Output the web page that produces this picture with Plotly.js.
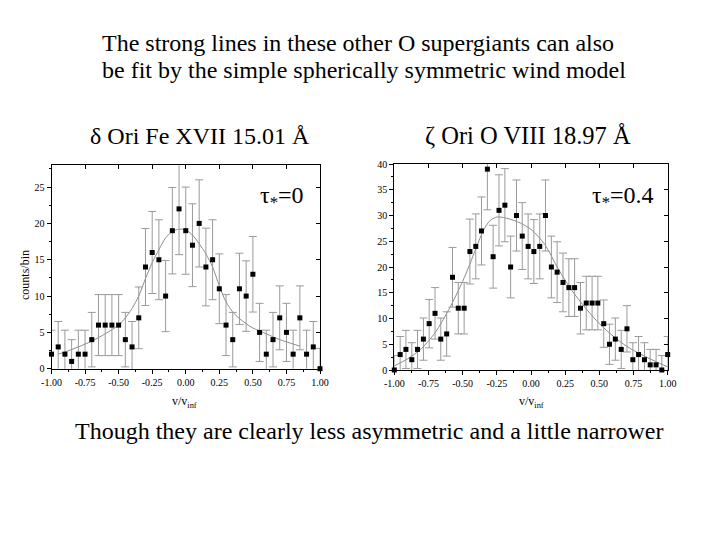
<!DOCTYPE html>
<html><head><meta charset="utf-8">
<script src="https://cdn.plot.ly/plotly-3.0.1.min.js"></script>
<style>body{margin:0;background:#fff}#chart{width:720px;height:540px}</style>
</head><body><div id="chart"></div>
<script>
// ---- data ----
const leftX = [-1.00,-0.95,-0.90,-0.85,-0.80,-0.75,-0.70,-0.65,-0.60,-0.55,-0.50,-0.45,-0.40,-0.35,-0.30,-0.25,-0.20,-0.15,-0.10,-0.05,0.00,0.05,0.10,0.15,0.20,0.25,0.30,0.35,0.40,0.45,0.50,0.55,0.60,0.65,0.70,0.75,0.80,0.85,0.90,0.95,1.00];
const leftCounts = [2,3,2,1,2,2,4,6,6,6,6,4,3,7,14,16,15,10,19,22,19,17,20,14,15,11,6,4,11,10,13,5,2,4,7,5,2,7,2,3,0];
const leftErr = [3.3,3.5,3.3,3.0,3.3,3.3,3.75,4.2,4.2,4.2,4.2,3.75,3.5,4.25,5.3,5.65,5.5,4.9,5.95,6.3,6.0,5.7,6.0,5.35,5.5,4.8,4.2,3.75,4.9,4.85,5.2,4.0,3.3,3.75,4.4,4.0,3.3,4.4,3.3,3.5,2.8];
const leftModelX = [-0.95,-0.9,-0.8,-0.7,-0.6,-0.5,-0.45,-0.4,-0.35,-0.3,-0.25,-0.2,-0.15,-0.1,-0.05,0,0.05,0.1,0.15,0.2,0.25,0.3,0.35,0.4,0.45,0.5,0.6,0.7,0.8,0.85];
const leftModelY = [2.0,2.3,3.0,3.8,4.8,6.0,7.0,8.3,10.0,12.4,14.6,16.4,18.0,18.9,19.2,19.1,18.4,17.2,15.8,14.0,11.4,9.2,7.8,6.9,6.2,5.6,4.8,4.0,3.4,3.1];

const rightX = [-1.000,-0.957,-0.915,-0.872,-0.830,-0.787,-0.745,-0.702,-0.660,-0.617,-0.574,-0.532,-0.489,-0.447,-0.404,-0.362,-0.319,-0.277,-0.234,-0.191,-0.149,-0.106,-0.064,-0.021,0.021,0.064,0.106,0.149,0.191,0.234,0.277,0.319,0.362,0.404,0.447,0.489,0.532,0.574,0.617,0.660,0.702,0.745,0.787,0.830,0.872,0.915,0.957,1.000];
const rightCounts = [0,3,4,2,4,6,9,11,6,7,18,12,12,23,24,27,39,22,31,32,20,30,26,24,23,24,30,20,19,17,16,16,12,13,13,13,9,5,6,4,8,2,3,2,1,1,0,3];
const rightErr = [2.8,3.5,3.7,3.3,3.7,4.1,4.7,5.0,4.1,4.3,5.8,5.0,5.0,6.3,6.3,6.6,7.9,6.1,6.9,7.1,6.0,6.9,6.5,6.3,6.2,6.3,6.9,6.0,5.9,5.7,5.6,5.6,5.0,5.2,5.2,5.2,4.6,3.9,4.1,3.7,4.5,3.3,3.5,3.3,3.0,3.0,2.8,3.5];
const rightModelX = [-1,-0.9,-0.8,-0.7,-0.6,-0.5,-0.45,-0.4,-0.35,-0.3,-0.25,-0.2,-0.1,0,0.1,0.2,0.3,0.4,0.5,0.6,0.7,0.8,0.9,1];
const rightModelY = [0.8,2.2,4.2,7.3,11.8,17.2,20.4,23.8,27.0,29.0,29.7,29.6,28.8,27.3,24.4,19.6,15.4,12.0,9.0,6.6,4.6,3.1,1.8,0.6];

const xTickVals = [-1,-0.75,-0.5,-0.25,0,0.25,0.5,0.75,1];
const xTickText = ['-1.00','-0.75','-0.50','-0.25','0.00','0.25','0.50','0.75','1.00'];
const leftYTicks = [0,5,10,15,20,25];
const rightYTicks = [0,5,10,15,20,25,30,35,40];

const titleLines = ['The strong lines in these other O supergiants can also','be fit by the simple spherically symmetric wind model'];
const leftTitle = 'δ Ori Fe XVII 15.01 Å';
const rightTitle = 'ζ Ori O VIII 18.97 Å';
const leftTau = 'τ<sub>*</sub>=0';
const rightTau = 'τ<sub>*</sub>=0.4';
const footer = 'Though they are clearly less asymmetric and a little narrower';

// ---- drawing ----
const SERIF = 'Liberation Serif, Times New Roman, serif';
const errStyle = arr => ({type:'data', array:arr, visible:true, color:'#9a9a9a', thickness:1, width:4});
const markerStyle = {symbol:'square', size:5, color:'#000'};
const modelLine = {color:'#8c8c8c', width:1, shape:'spline', smoothing:0.8};

const traces = [
  {x:leftModelX, y:leftModelY, mode:'lines', line:modelLine, xaxis:'x', yaxis:'y', hoverinfo:'skip'},
  {x:leftX, y:leftCounts, mode:'markers', marker:markerStyle, error_y:errStyle(leftErr), xaxis:'x', yaxis:'y', cliponaxis:false},
  {x:rightModelX, y:rightModelY, mode:'lines', line:modelLine, xaxis:'x2', yaxis:'y2', hoverinfo:'skip'},
  {x:rightX, y:rightCounts, mode:'markers', marker:markerStyle, error_y:errStyle(rightErr), xaxis:'x2', yaxis:'y2', cliponaxis:false},
  {x:[null], y:[null], xaxis:'x3', yaxis:'y', mode:'markers', hoverinfo:'skip'},
  {x:[null], y:[null], xaxis:'x', yaxis:'y3', mode:'markers', hoverinfo:'skip'},
  {x:[null], y:[null], xaxis:'x4', yaxis:'y2', mode:'markers', hoverinfo:'skip'},
  {x:[null], y:[null], xaxis:'x2', yaxis:'y4', mode:'markers', hoverinfo:'skip'}
];

const tickFont = {family:SERIF, size:10, color:'#000'};
function xMain(domain, anchor){
  return {domain:domain, anchor:anchor, range:[-1,1], tickmode:'array', tickvals:xTickVals, ticktext:xTickText,
    ticks:'outside', ticklen:4, tickwidth:1, tickcolor:'#000', showline:true, linecolor:'#000', linewidth:1,
    zeroline:false, showgrid:false, tickfont:tickFont, fixedrange:true,
    minor:{ticks:'outside', ticklen:2, tickwidth:1, tickcolor:'#000', tickmode:'linear', tick0:-1, dtick:0.125, showgrid:false}};
}
function yMain(domain, anchor, maxV, tv){
  return {domain:domain, anchor:anchor, range:[0,maxV], tickmode:'array', tickvals:tv, ticktext:tv.map(String),
    ticks:'outside', ticklen:4, tickwidth:1, tickcolor:'#000', showline:true, linecolor:'#000', linewidth:1,
    zeroline:false, showgrid:false, tickfont:tickFont, fixedrange:true,
    minor:{ticks:'outside', ticklen:2, tickwidth:1, tickcolor:'#000', tickmode:'linear', tick0:0, dtick:2.5, showgrid:false}};
}
function xMirror(over, anchor){
  return {overlaying:over, anchor:anchor, side:'top', range:[-1,1], tickmode:'array', tickvals:xTickVals,
    ticks:'inside', ticklen:4, tickcolor:'#000', showticklabels:false, showline:true, linecolor:'#000', linewidth:1,
    zeroline:false, showgrid:false, fixedrange:true};
}
function yMirror(over, anchor, maxV, tv){
  return {overlaying:over, anchor:anchor, side:'right', range:[0,maxV], tickmode:'array', tickvals:tv,
    ticks:'inside', ticklen:4, tickcolor:'#000', showticklabels:false, showline:true, linecolor:'#000', linewidth:1,
    zeroline:false, showgrid:false, fixedrange:true};
}

const ann = (text, x, y, size, xanchor) => ({text:text, x:x/720, y:1-y/540, xref:'paper', yref:'paper',
  xanchor:xanchor||'left', yanchor:'middle', showarrow:false, font:{family:SERIF, size:size, color:'#000'}});

const layout = {
  width:720, height:540, margin:{l:0,r:0,t:0,b:0}, paper_bgcolor:'#fff', plot_bgcolor:'#fff', showlegend:false,
  xaxis: xMain([51.5/720, 320/720], 'y'),
  yaxis: yMain([1-368.7/540, 1-165.3/540], 'x', 28, leftYTicks),
  xaxis2: xMain([394.3/720, 667.7/720], 'y2'),
  yaxis2: yMain([1-370/540, 1-164/540], 'x2', 40, rightYTicks),
  xaxis3: xMirror('x', 'y'),
  yaxis3: yMirror('y', 'x', 28, leftYTicks),
  xaxis4: xMirror('x2', 'y2'),
  yaxis4: yMirror('y2', 'x2', 40, rightYTicks),
  annotations: [
    ann(titleLines[0], 100, 43, 24),
    ann(titleLines[1], 100, 70, 24),
    ann(leftTitle, 88, 136, 24),
    ann(rightTitle, 423, 136, 24.5),
    ann(leftTau, 258, 197, 24),
    ann(rightTau, 590, 197, 24),
    ann(footer, 73, 431, 24),
    {text:'counts/bin', x:25/720, y:1-275/540, xref:'paper', yref:'paper', textangle:-90, showarrow:false,
      xanchor:'center', yanchor:'middle', font:{family:SERIF, size:12, color:'#000'}},
    {text:'v/v<sub>inf</sub>', x:185/720, y:1-402/540, xref:'paper', yref:'paper', showarrow:false,
      xanchor:'center', yanchor:'middle', font:{family:SERIF, size:12, color:'#000'}},
    {text:'v/v<sub>inf</sub>', x:531/720, y:1-402/540, xref:'paper', yref:'paper', showarrow:false,
      xanchor:'center', yanchor:'middle', font:{family:SERIF, size:12, color:'#000'}}
  ]
};

Plotly.newPlot('chart', traces, layout, {staticPlot:true, displayModeBar:false});
</script>
</body></html>
